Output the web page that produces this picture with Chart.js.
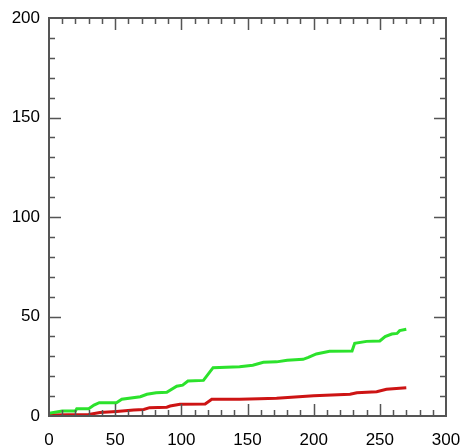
<!DOCTYPE html>
<html>
<head>
<meta charset="utf-8">
<script src="https://cdn.jsdelivr.net/npm/chart.js@4"></script>
<style>
  html, body { margin: 0; padding: 0; background: #fff; }
  #wrap { width: 462px; height: 448px; }
</style>
</head>
<body>
<div id="wrap"><canvas id="lineChartCanvas" width="462" height="448"></canvas></div>
<script>
// values
let greenX = [0, 10, 20, 21, 30, 34, 38, 51, 55, 69, 74, 81, 89, 96.5, 101, 105, 116.7, 124, 144, 154, 162, 172, 180, 192, 196, 202, 212, 229, 231, 240, 250, 254, 259, 263, 265, 270];
let greenY = [1.4, 2.5, 2.5, 3.7, 3.7, 5.5, 6.7, 6.7, 8.4, 9.7, 10.9, 11.7, 11.9, 15, 15.5, 17.6, 17.9, 24.3, 24.8, 25.5, 27, 27.2, 28, 28.5, 29.5, 31.2, 32.5, 32.7, 36.5, 37.5, 37.7, 39.9, 41.2, 41.5, 42.9, 43.6];
let redX = [0, 30, 38.5, 51, 64, 71.6, 76, 89, 91.5, 99, 118, 123, 144, 159, 172, 200, 227.5, 232.6, 247.6, 255, 270];
let redY = [0.5, 0.8, 1.8, 2.3, 3, 3.3, 4.2, 4.4, 5, 5.9, 6, 8.4, 8.4, 8.7, 8.9, 10.2, 10.9, 11.7, 12.2, 13.4, 14.2];

let xTicks = [0, 50, 100, 150, 200, 250, 300];
let yTicks = [0, 50, 100, 150, 200];

let toPoints = function (xs, ys) {
    return xs.map(function (x, i) { return { x: x, y: ys[i] }; });
};

// frame and inward ticks on all four sides
let frameTicks = {
    id: 'frameTicks',
    afterDraw: function (chart) {
        let ctx = chart.ctx;
        let a = chart.chartArea;
        let xs = chart.scales.x;
        let ys = chart.scales.y;
        ctx.save();
        ctx.strokeStyle = '#555';
        ctx.lineWidth = 2;
        ctx.strokeRect(a.left, a.top, a.right - a.left, a.bottom - a.top);
        ctx.lineWidth = 1.5;
        ctx.beginPath();
        for (let v = 10; v < 300; v += 10) {
            let px = Math.round(xs.getPixelForValue(v)) + 0.5;
            let len = v % 50 === 0 ? 12 : 6;
            ctx.moveTo(px, a.bottom); ctx.lineTo(px, a.bottom - len);
            ctx.moveTo(px, a.top); ctx.lineTo(px, a.top + len);
        }
        for (let v = 10; v < 200; v += 10) {
            let py = Math.round(ys.getPixelForValue(v)) + 0.5;
            let len = v % 50 === 0 ? 12 : 6;
            ctx.moveTo(a.left, py); ctx.lineTo(a.left + len, py);
            ctx.moveTo(a.right, py); ctx.lineTo(a.right - len, py);
        }
        ctx.stroke();
        ctx.restore();
    }
};

let lineChartDraw = function () {
    let ctx = document.getElementById('lineChartCanvas').getContext('2d');

    window.lineChart = new Chart(ctx, {
        type: 'line',
        data: {
            datasets: [{
                data: toPoints(greenX, greenY),
                borderColor: 'rgb(44, 226, 44)',
                borderWidth: 3,
                pointRadius: 0,
                tension: 0
            }, {
                data: toPoints(redX, redY),
                borderColor: 'rgb(205, 20, 20)',
                borderWidth: 3,
                pointRadius: 0,
                tension: 0
            }]
        },
        options: {
            responsive: false,
            animation: false,
            layout: { padding: { top: 18, right: 16, left: 0, bottom: 0 } },
            plugins: { legend: { display: false }, tooltip: { enabled: false } },
            scales: {
                x: {
                    type: 'linear',
                    min: 0,
                    max: 300,
                    afterBuildTicks: function (s) { s.ticks = xTicks.map(function (v) { return { value: v }; }); },
                    afterFit: function (s) { s.height = 32; s.paddingLeft = 0; s.paddingRight = 0; },
                    grid: { drawOnChartArea: false, drawTicks: false },
                    border: { display: false },
                    ticks: { color: '#000', padding: 14, maxRotation: 0, font: { family: 'Liberation Sans', size: 17 } }
                },
                y: {
                    type: 'linear',
                    min: 0,
                    max: 200,
                    afterBuildTicks: function (s) { s.ticks = yTicks.map(function (v) { return { value: v }; }); },
                    afterFit: function (s) { s.width = 49; s.paddingTop = 0; s.paddingBottom = 0; },
                    grid: { drawOnChartArea: false, drawTicks: false },
                    border: { display: false },
                    ticks: { color: '#000', padding: 9, font: { family: 'Liberation Sans', size: 17 } }
                }
            }
        },
        plugins: [frameTicks]
    });
};

window.onload = function () {
    lineChartDraw();
};
</script>
</body>
</html>
